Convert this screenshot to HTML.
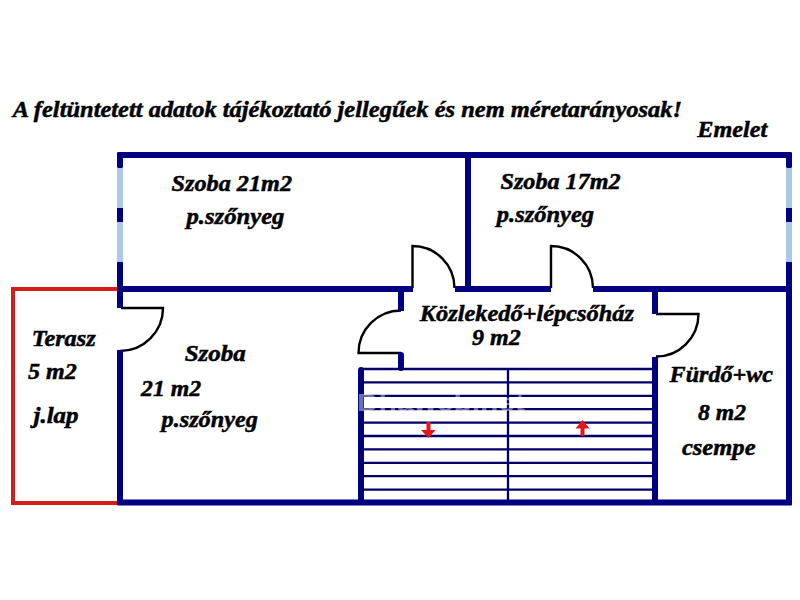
<!DOCTYPE html>
<html><head><meta charset="utf-8">
<style>
html,body{margin:0;padding:0;background:#fff;width:800px;height:600px;overflow:hidden}
svg{display:block}
text{font-family:"Liberation Serif",serif;font-weight:bold;font-style:italic;fill:#000;stroke:#000;stroke-width:0.5px}
</style></head><body>
<svg width="800" height="600" viewBox="0 0 800 600">
<rect width="800" height="600" fill="#fff"/>
<!-- doors -->
<g stroke="#000" stroke-width="2.4" fill="none">
  <path d="M121 308 H163 A43 43 0 0 1 120 351"/>
  <path d="M412.5 288 V246 A42 42 0 0 1 454.5 288"/>
  <path d="M551 288 V246 A42 42 0 0 1 593 288"/>
  <path d="M401 353 H358.5 A42.5 42.5 0 0 1 401 310.5"/>
  <path d="M656 314 H698.5 A42.5 42.5 0 0 1 656 356.5"/>
</g>
<!-- terrace red -->
<path d="M117 289 H13 V503 H117" fill="none" stroke="#d41c1a" stroke-width="4"/>
<g fill="#000080">
  <rect x="117" y="152" width="675" height="6" rx="1.5"/>
  <rect x="117" y="152" width="6" height="16" rx="1.5"/>
  <rect x="117" y="208" width="6" height="14"/>
  <rect x="117" y="262" width="6" height="46"/>
  <rect x="117" y="350" width="6" height="155"/>
  <rect x="786" y="152" width="6" height="16" rx="1.5"/>
  <rect x="786" y="208" width="6" height="14"/>
  <rect x="786" y="262" width="6" height="243"/>
  <rect x="465" y="152" width="6" height="140"/>
  <rect x="117" y="286" width="296" height="6"/>
  <rect x="455" y="286" width="96" height="6"/>
  <rect x="593" y="286" width="199" height="6"/>
  <rect x="117" y="499.6" width="675" height="6" rx="1"/>
  <rect x="398" y="292" width="6" height="19"/>
  <rect x="398" y="352" width="6" height="19" rx="3"/>
  <rect x="358" y="367" width="6" height="138" rx="3"/>
  <rect x="652" y="286" width="6" height="28"/>
  <rect x="652" y="357" width="6" height="148"/>
</g>
<g fill="#abc8ea">
  <rect x="117" y="168" width="6" height="40"/>
  <rect x="117" y="222" width="6" height="40"/>
  <rect x="786" y="168" width="6" height="40"/>
  <rect x="786" y="222" width="6" height="40"/>
</g>
<!-- stairs -->
<g stroke="#000066" stroke-width="2.3" fill="none">
  <line x1="362" y1="369" x2="653" y2="369"/>
  <line x1="362" y1="382.4" x2="653" y2="382.4"/>
  <line x1="362" y1="395.8" x2="653" y2="395.8"/>
  <line x1="362" y1="409.2" x2="653" y2="409.2"/>
  <line x1="362" y1="422.6" x2="653" y2="422.6"/>
  <line x1="362" y1="436" x2="653" y2="436"/>
  <line x1="362" y1="449.4" x2="653" y2="449.4"/>
  <line x1="362" y1="462.8" x2="653" y2="462.8"/>
  <line x1="362" y1="476.2" x2="653" y2="476.2"/>
  <line x1="362" y1="489.6" x2="653" y2="489.6"/>
  <line x1="508" y1="368" x2="508" y2="500"/>
</g>
<!-- arrows -->
<g fill="#e8141c">
  <path d="M426.5 422 H430.5 V430 H435.5 L428.5 438 L421 430 H426.5 Z"/>
  <path d="M582.5 420 L589.5 428.5 H584.5 V436 H580.5 V428.5 H575.5 Z"/>
</g>
<!-- watermark -->
<text x="357" y="411" font-size="24" textLength="168" lengthAdjust="spacingAndGlyphs" style="font-family:'Liberation Sans',sans-serif;font-weight:bold;font-style:normal;fill:#fff;fill-opacity:0.45;stroke:none">Dhaweb.net</text>

<text x="12.75" y="117.30" font-size="23.0" textLength="669.30" lengthAdjust="spacingAndGlyphs">A feltüntetett adatok tájékoztató jellegűek és nem méretarányosak!</text>
<text x="697.30" y="137.00" font-size="23.0" textLength="70.01" lengthAdjust="spacingAndGlyphs">Emelet</text>
<text x="171.60" y="190.90" font-size="23.0" textLength="120.46" lengthAdjust="spacingAndGlyphs">Szoba 21m2</text>
<text x="186.50" y="223.60" font-size="23.0" textLength="97.93" lengthAdjust="spacingAndGlyphs">p.szőnyeg</text>
<text x="500.50" y="189.00" font-size="23.0" textLength="120.06" lengthAdjust="spacingAndGlyphs">Szoba 17m2</text>
<text x="496.75" y="221.60" font-size="23.0" textLength="97.34" lengthAdjust="spacingAndGlyphs">p.szőnyeg</text>
<text x="31.80" y="345.90" font-size="23.0" textLength="63.84" lengthAdjust="spacingAndGlyphs">Terasz</text>
<text x="28.00" y="379.40" font-size="23.0" textLength="48.68" lengthAdjust="spacingAndGlyphs">5 m2</text>
<text x="33.50" y="422.50" font-size="23.0" textLength="44.94" lengthAdjust="spacingAndGlyphs">j.lap</text>
<text x="184.70" y="361.00" font-size="23.0" textLength="61.16" lengthAdjust="spacingAndGlyphs">Szoba</text>
<text x="141.10" y="396.00" font-size="23.0" textLength="60.15" lengthAdjust="spacingAndGlyphs">21 m2</text>
<text x="161.50" y="426.60" font-size="23.0" textLength="96.35" lengthAdjust="spacingAndGlyphs">p.szőnyeg</text>
<text x="419.75" y="320.50" font-size="23.0" textLength="214.23" lengthAdjust="spacingAndGlyphs">Közlekedő+lépcsőház</text>
<text x="472.00" y="345.25" font-size="23.0" textLength="48.72" lengthAdjust="spacingAndGlyphs">9 m2</text>
<text x="669.60" y="382.40" font-size="23.0" textLength="103.39" lengthAdjust="spacingAndGlyphs">Fürdő+wc</text>
<text x="698.10" y="419.50" font-size="23.0" textLength="48.07" lengthAdjust="spacingAndGlyphs">8 m2</text>
<text x="681.90" y="454.50" font-size="23.0" textLength="73.64" lengthAdjust="spacingAndGlyphs">csempe</text>
</svg>
</body></html>
